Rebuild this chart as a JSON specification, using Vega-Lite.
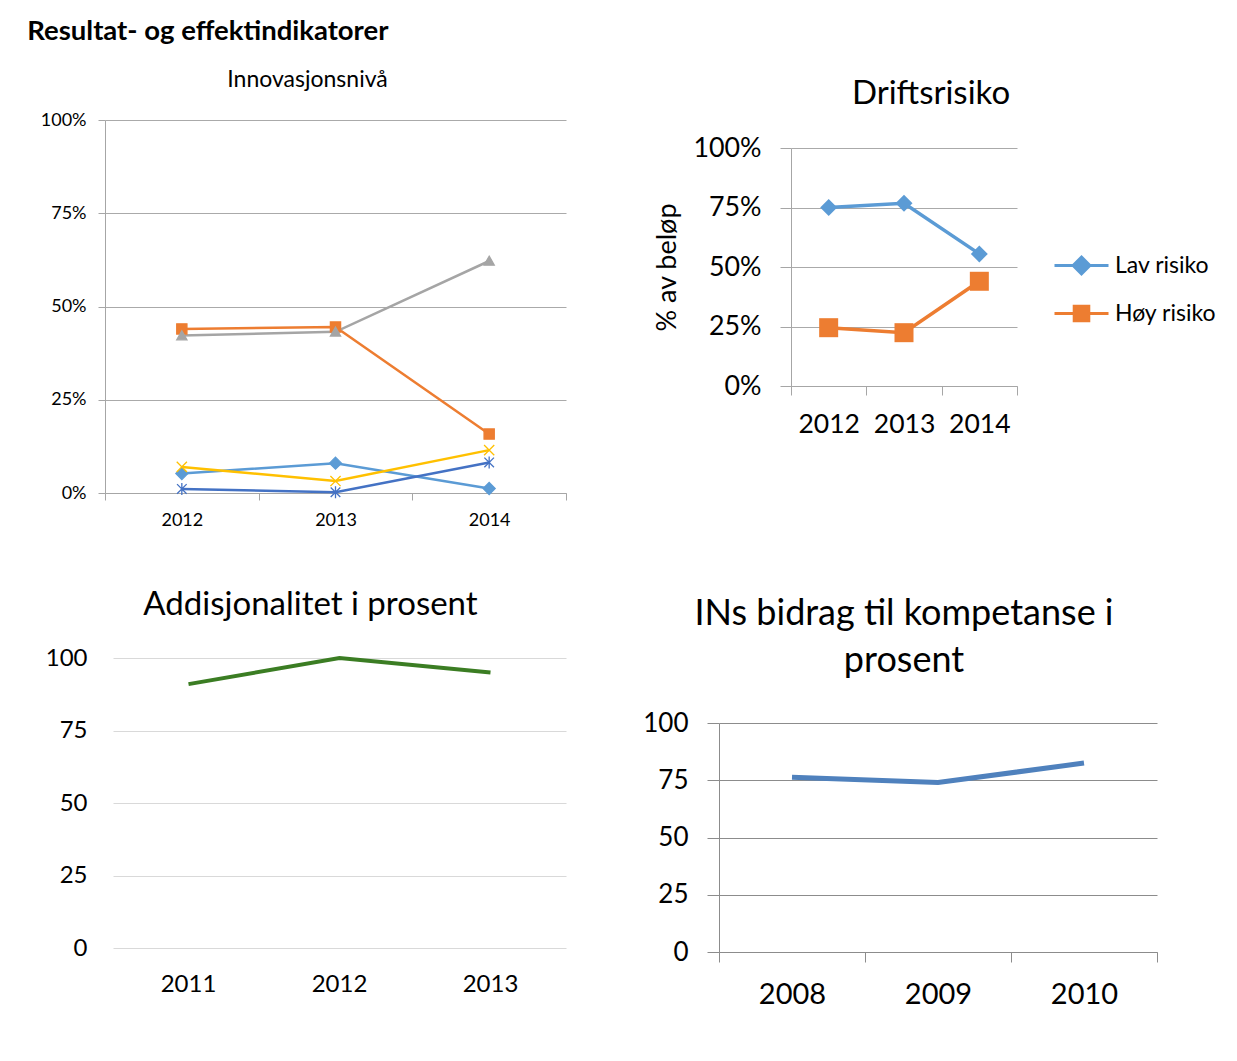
{
  "$schema": "https://vega.github.io/schema/vega-lite/v6.json",
  "background": "white",
  "padding": {"left": 27, "top": 18, "right": 10, "bottom": 10},
  "title": {"text": "Resultat- og effektindikatorer", "anchor": "start", "frame": "bounds", "font": "Lato", "fontSize": 27.5, "fontWeight": "bold", "color": "#000000", "offset": 23.5, "dx": -13},
  "config": {
    "font": "Lato",
    "view": {"stroke": null},
    "axis": {"labelFont": "Lato", "labelColor": "#000000", "titleFont": "Lato", "titleColor": "#000000", "titleFontWeight": "normal"},
    "title": {"font": "Lato", "fontWeight": "normal", "color": "#000000"}
  },
  "datasets": {
    "innov": [
      {"series": "Serie 1", "year": "2012", "value": 0.052},
      {"series": "Serie 1", "year": "2013", "value": 0.080},
      {"series": "Serie 1", "year": "2014", "value": 0.012},
      {"series": "Serie 2", "year": "2012", "value": 0.440},
      {"series": "Serie 2", "year": "2013", "value": 0.445},
      {"series": "Serie 2", "year": "2014", "value": 0.158},
      {"series": "Serie 3", "year": "2012", "value": 0.422},
      {"series": "Serie 3", "year": "2013", "value": 0.432},
      {"series": "Serie 3", "year": "2014", "value": 0.622},
      {"series": "Serie 4", "year": "2012", "value": 0.070},
      {"series": "Serie 4", "year": "2013", "value": 0.032},
      {"series": "Serie 4", "year": "2014", "value": 0.115},
      {"series": "Serie 5", "year": "2012", "value": 0.011},
      {"series": "Serie 5", "year": "2013", "value": 0.002},
      {"series": "Serie 5", "year": "2014", "value": 0.082}
    ],
    "drift": [
      {"series": "Lav risiko", "year": "2012", "value": 0.750},
      {"series": "Lav risiko", "year": "2013", "value": 0.768},
      {"series": "Lav risiko", "year": "2014", "value": 0.555},
      {"series": "Høy risiko", "year": "2012", "value": 0.245},
      {"series": "Høy risiko", "year": "2013", "value": 0.224},
      {"series": "Høy risiko", "year": "2014", "value": 0.440}
    ],
    "addis": [
      {"year": "2011", "value": 91},
      {"year": "2012", "value": 100},
      {"year": "2013", "value": 95}
    ],
    "komp": [
      {"year": "2008", "value": 76.3},
      {"year": "2009", "value": 74},
      {"year": "2010", "value": 82.5}
    ]
  },
  "resolve": {"scale": {"color": "independent", "shape": "independent", "stroke": "independent"}, "legend": {"color": "independent", "shape": "independent", "stroke": "independent"}},
  "spacing": 60,
  "vconcat": [
    {
      "spacing": 86,
      "resolve": {"scale": {"color": "independent", "shape": "independent", "stroke": "independent"}, "legend": {"color": "independent", "shape": "independent", "stroke": "independent"}},
      "hconcat": [
        {
          "width": 461,
          "height": 373,
          "title": {"text": "Innovasjonsnivå", "fontSize": 23, "dx": -28, "offset": 19},
          "data": {"name": "innov"},
          "encoding": {
            "x": {"field": "year", "type": "ordinal", "scale": {"type": "band", "paddingInner": 0, "paddingOuter": 0},
              "axis": {"title": null, "labelAngle": 0, "labelFontSize": 18, "labelBaseline": "middle", "labelPadding": 20, "tickBand": "extent", "tickSize": 7, "tickColor": "#a6a6a6", "domainColor": "#a6a6a6", "grid": false}},
            "y": {"field": "value", "type": "quantitative", "scale": {"domain": [0, 1]},
              "axis": {"title": null, "values": [0, 0.25, 0.5, 0.75, 1], "format": ".0%", "labelFontSize": 18, "labelPadding": 12, "tickSize": 7, "tickColor": "#a6a6a6", "domainColor": "#a6a6a6", "gridColor": "#aaaaaa", "grid": true}},
            "color": {"field": "series", "type": "nominal", "legend": null,
              "scale": {"domain": ["Serie 1", "Serie 2", "Serie 3", "Serie 4", "Serie 5"], "range": ["#5b9bd5", "#ed7d31", "#a5a5a5", "#ffc000", "#4472c4"]}}
          },
          "layer": [
            {"mark": {"type": "line", "strokeWidth": 2.5}},
            {"mark": {"type": "point", "filled": true, "opacity": 1, "strokeWidth": 1.3, "size": 144},
              "encoding": {
                "shape": {"field": "series", "type": "nominal", "legend": null,
                  "scale": {"domain": ["Serie 1", "Serie 2", "Serie 3", "Serie 4", "Serie 5"], "range": ["M0,-1L1,0L0,1L-1,0Z", "M-0.85,-0.85H0.85V0.85H-0.85Z", "M0,-0.8L0.85,0.7H-0.85Z", "M-0.85,-0.85L0.85,0.85M-0.85,0.85L0.85,-0.85", "M-0.8,-0.8L0.8,0.8M-0.8,0.8L0.8,-0.8M0,-1L0,1"]}},
                "stroke": {"field": "series", "type": "nominal", "legend": null,
                  "scale": {"domain": ["Serie 1", "Serie 2", "Serie 3", "Serie 4", "Serie 5"], "range": ["#5b9bd5", "#ed7d31", "#a5a5a5", "#ffc000", "#4472c4"]}}
              }}
          ]
        },
        {
          "width": 226,
          "height": 266,
          "title": {"text": "Driftsrisiko", "fontSize": 33, "dx": 27, "offset": 9},
          "data": {"name": "drift"},
          "resolve": {"legend": {"color": "independent"}},
          "encoding": {
            "x": {"field": "year", "type": "ordinal", "scale": {"type": "band", "paddingInner": 0, "paddingOuter": 0},
              "axis": {"title": null, "labelAngle": 0, "labelFontSize": 26.5, "labelBaseline": "middle", "labelPadding": 29, "tickBand": "extent", "tickSize": 9, "tickColor": "#a6a6a6", "domainColor": "#a6a6a6", "grid": false}},
            "y": {"field": "value", "type": "quantitative", "scale": {"domain": [0, 1], "range": [266, 28]},
              "axis": {"title": "% av beløp", "titleFontSize": 27, "titlePadding": 11, "values": [0, 0.25, 0.5, 0.75, 1], "format": ".0%", "labelFontSize": 26.8, "labelPadding": 19, "tickSize": 11, "tickColor": "#a6a6a6", "domainColor": "#a6a6a6", "gridColor": "#aaaaaa", "grid": true}}
          },
          "layer": [
            {"mark": {"type": "line", "strokeWidth": 3.5},
              "encoding": {
                "color": {"field": "series", "type": "nominal",
                  "scale": {"domain": ["Lav risiko", "Høy risiko"], "range": ["#5b9bd5", "#ed7d31"]},
                  "legend": {"title": null, "orient": "none", "legendX": 262, "legendY": 117, "padding": 0,
                    "symbolSize": 2916, "symbolStrokeWidth": 3, "labelFont": "Lato", "labelFontSize": 23, "labelColor": "#000000", "labelOffset": 5, "rowPadding": 5,
                    "encode": {"symbols": {"update": {
                      "shape": {"signal": "datum.value === 'Lav risiko' ? 'M-1,0H1M0,-0.31L0.31,0L0,0.31L-0.31,0Z' : 'M-1,0H1M-0.27,-0.27H0.27V0.27H-0.27Z'"},
                      "fill": {"signal": "datum.value === 'Lav risiko' ? '#5b9bd5' : '#ed7d31'"},
                      "stroke": {"signal": "datum.value === 'Lav risiko' ? '#5b9bd5' : '#ed7d31'"}
                    }}}}}
              }},
            {"mark": {"type": "point", "filled": true, "opacity": 1, "size": 400},
              "encoding": {
                "color": {"field": "series", "type": "nominal", "legend": null},
                "shape": {"field": "series", "type": "nominal", "legend": null,
                  "scale": {"domain": ["Lav risiko", "Høy risiko"], "range": ["M0,-0.85L0.85,0L0,0.85L-0.85,0Z", "M-0.95,-0.95H0.95V0.95H-0.95Z"]}}
              }}
          ]
        }
      ]
    },
    {
      "spacing": 76,
      "hconcat": [
        {
          "width": 461,
          "height": 290,
          "title": {"text": "Addisjonalitet i prosent", "fontSize": 33, "dx": -25, "offset": 24},
          "data": {"name": "addis"},
          "mark": {"type": "line", "strokeWidth": 4, "color": "#3b7d23"},
          "encoding": {
            "x": {"field": "year", "type": "ordinal", "scale": {"type": "band", "range": [8, 461], "paddingInner": 0, "paddingOuter": 0},
              "axis": {"title": null, "labelAngle": 0, "labelFontSize": 24, "domain": false, "ticks": false, "labelBaseline": "middle", "labelPadding": 36, "grid": false}},
            "y": {"field": "value", "type": "quantitative", "scale": {"domain": [0, 100]},
              "axis": {"title": null, "values": [0, 25, 50, 75, 100], "domain": false, "ticks": false, "labelFontSize": 24, "labelPadding": 18, "gridColor": "#d9d9d9", "grid": true}}
          }
        },
        {
          "width": 438,
          "height": 294,
          "title": {"text": ["INs bidrag til kompetanse i", "prosent"], "fontSize": 36, "lineHeight": 47, "dx": -34, "offset": -22},
          "data": {"name": "komp"},
          "mark": {"type": "line", "strokeWidth": 5, "color": "#4f81bd"},
          "encoding": {
            "x": {"field": "year", "type": "ordinal", "scale": {"type": "band", "paddingInner": 0, "paddingOuter": 0},
              "axis": {"title": null, "labelAngle": 0, "labelFontSize": 29, "labelBaseline": "middle", "labelPadding": 32, "tickBand": "extent", "tickSize": 10, "tickColor": "#8c8c8c", "domainColor": "#8c8c8c", "grid": false}},
            "y": {"field": "value", "type": "quantitative", "scale": {"domain": [0, 100], "range": [294, 65]},
              "axis": {"title": null, "values": [0, 25, 50, 75, 100], "labelFontSize": 26, "labelPadding": 19, "tickSize": 12, "tickColor": "#8c8c8c", "domainColor": "#8c8c8c", "gridColor": "#8c8c8c", "grid": true}}
          }
        }
      ]
    }
  ]
}
